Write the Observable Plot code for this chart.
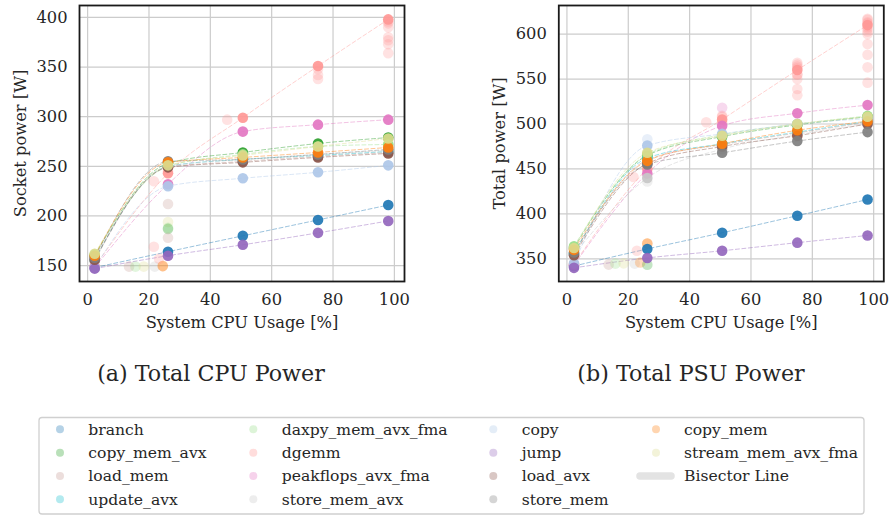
<!DOCTYPE html>
<html><head><meta charset="utf-8">
<script src="https://cdn.jsdelivr.net/npm/d3@7"></script>
<script src="https://cdn.jsdelivr.net/npm/@observablehq/plot@0.6"></script>
<style>
body{margin:0;background:#fff;}
#root{position:relative;width:891px;height:516px;overflow:hidden;font-family:"DejaVu Serif";color:#262626;background:#fff}
.panel{position:absolute;top:0}
.cap{position:absolute;top:362px;font-size:22.2px;line-height:22px;white-space:nowrap;transform:translateX(-50%)}
#legend{position:absolute;left:0;top:0}
</style></head><body><div id="root"></div>
<script>
// ---------------- data ----------------
const benchmarks = ["branch","copy_mem_avx","load_mem","update_avx","daxpy_mem_avx_fma","dgemm","peakflops_avx_fma","store_mem_avx","copy","jump","load_avx","store_mem","copy_mem","stream_mem_avx_fma"];
const palette = ["#1f77b4","#2ca02c","#c49c94","#17becf","#98df8a","#ff9896","#e377c2","#c7c7c7","#aec7e8","#9467bd","#8c564b","#7f7f7f","#ff7f0e","#dbdb8d"];
const cpuUsage = [2.3, 26.2, 50.6, 75.1, 98.0];
const xTicks = [0, 20, 40, 60, 80, 100];
const socketTicks = [150, 200, 250, 300, 350, 400];
const totalTicks = [350, 400, 450, 500, 550, 600];

// socket power [W], one row per benchmark (same order), one value per cpuUsage level
const socketPower = [
  [148, 164, 180, 196, 211],
  [160, 253, 264, 273, 279],
  [155, 249, 255, 260, 264],
  [156, 250, 257, 261, 265],
  [161, 250, 262, 270, 272],
  [149, 243, 299, 351, 398],
  [148, 232, 285, 292, 297],
  [157, 250, 257, 262, 266],
  [148, 230, 238, 244, 251],
  [147, 160, 171, 183, 195],
  [156, 249, 254, 259, 263],
  [158, 255, 257, 262, 267],
  [160, 254, 259, 264, 269],
  [162, 251, 261, 270, 278]
];
// total (PSU) power [W]
const totalPower = [
  [342, 361, 379, 398, 416],
  [362, 465, 486, 499, 508],
  [355, 460, 477, 490, 502],
  [356, 462, 478, 491, 503],
  [364, 466, 488, 500, 509],
  [344, 450, 505, 560, 610],
  [343, 445, 498, 512, 521],
  [355, 440, 472, 488, 500],
  [345, 476, 489, 500, 506],
  [340, 351, 359, 368, 376],
  [354, 456, 475, 487, 500],
  [357, 455, 468, 481, 491],
  [360, 459, 478, 493, 503],
  [362, 468, 487, 500, 508]
];
// individual (transient / repeated) measurements, socket panel
const socketExtraX = [13.5, 15.6, 18.3, 21.9, 24.5, 24.5, 21.6, 23.3, 21.6, 45.5, 26.2, 26.2, 26.2, 26.2, 26.2, 26.2, 75.1, 75.1, 75.1, 98, 98, 98, 98, 98, 98, 98, 98];
const socketExtraY = [149, 149, 149, 149, 149.5, 149.5, 169, 157, 235, 297, 212, 194, 188, 187, 178, 245, 338, 342, 348, 394, 390, 380, 377, 373, 364, 272, 396];
const socketExtraS = [2, 4, 13, 7, 12, 12, 5, 5, 5, 5, 2, 13, 4, 1, 2, 5, 5, 5, 5, 5, 5, 5, 5, 5, 5, 4, 5];
// individual measurements, total panel
const totalExtraX = [13.6, 15.8, 18.5, 22.1, 23.9, 26.2, 26.2, 26.2, 22.8, 21.7, 45.4, 50.6, 26.2, 26.2, 98, 98, 98, 98, 98, 98, 98, 98, 75.1, 75.1, 75.1, 75.1, 75.1, 75.1, 50.6, 50.6, 98, 98, 98, 98, 98, 75.1, 75.1, 75.1, 50.6];
const totalExtraY = [343.6, 344.7, 345, 344.7, 346, 343.5, 367, 367, 359, 441, 502, 518, 436, 483, 617, 612, 606, 600, 589, 577, 563, 546, 568, 564, 555, 550, 539, 532, 509, 502, 508, 616, 613, 608, 603, 566, 562, 555, 508];
const totalExtraS = [2, 4, 13, 7, 12, 1, 12, 12, 5, 5, 5, 6, 7, 8, 5, 5, 5, 5, 5, 5, 5, 5, 5, 5, 5, 5, 5, 5, 5, 5, 4, 5, 5, 5, 5, 5, 5, 5, 5];

// ---------------- drawing ----------------
function panel(values, ex, ey, es, yDomain, yTicks, yLabel, width, marginLeft, marginRight, labelOffsetY) {
  const rows = [];
  benchmarks.forEach((b, i) => cpuUsage.forEach((x, j) => rows.push({bench: b, x, y: values[i][j]})));
  const extras = ex.map((x, k) => ({x, y: ey[k], bench: benchmarks[es[k]]}));
  return Plot.plot({
    width, height: 340, marginLeft, marginRight, marginTop: 5, marginBottom: 59,
    x: {domain: [-2.65, 103.3]},
    y: {domain: yDomain},
    color: {domain: benchmarks, range: palette},
    style: {fontFamily: "DejaVu Serif", fontSize: "16px", color: "#262626", background: "transparent", overflow: "visible"},
    marks: [
      Plot.gridX(xTicks, {stroke: "#cccccc", strokeOpacity: 1, strokeWidth: 1.2}),
      Plot.gridY(yTicks, {stroke: "#cccccc", strokeOpacity: 1, strokeWidth: 1.2}),
      Plot.line(rows, {x: "x", y: "y", z: "bench", stroke: "bench", strokeWidth: 1, strokeOpacity: 0.45, strokeDasharray: "4,2.5", curve: "monotone-x"}),
      Plot.dot(extras, {x: "x", y: "y", fill: "bench", r: 5.3, fillOpacity: 0.28}),
      Plot.dot(rows, {x: "x", y: "y", fill: "bench", r: 5.3, fillOpacity: 0.92}),
      Plot.frame({stroke: "#1a1a1a", strokeWidth: 1.8}),
      Plot.axisX(xTicks, {tickSize: 0, tickPadding: 12, fontSize: 16.3, label: "System CPU Usage [%]", labelAnchor: "center", labelArrow: "none", labelOffset: 46}),
      Plot.axisY(yTicks, {tickSize: 0, tickPadding: 12, fontSize: 16.3, label: yLabel, labelAnchor: "center", labelArrow: "none", labelOffset: labelOffsetY})
    ]
  });
}

const root = document.getElementById("root");
const left = panel(socketPower, socketExtraX, socketExtraY, socketExtraS, [134, 412], socketTicks, "Socket power [W]", 440, 79, 36, 65);
left.classList.add("panel"); left.style.left = "0px";
root.appendChild(left);
const right = panel(totalPower, totalExtraX, totalExtraY, totalExtraS, [324.8, 631.8], totalTicks, "Total power [W]", 451, 118.3, 7.7, 65);
right.classList.add("panel"); right.style.left = "440px";
root.appendChild(right);

for (const [txt, cx] of [["(a) Total CPU Power", 211], ["(b) Total PSU Power", 691]]) {
  const d = document.createElement("div");
  d.className = "cap"; d.textContent = txt; d.style.left = cx + "px";
  root.appendChild(d);
}

// legend
const ns = "http://www.w3.org/2000/svg";
const lg = document.createElementNS(ns, "svg");
lg.setAttribute("id", "legend"); lg.setAttribute("width", 891); lg.setAttribute("height", 516);
lg.style.fontFamily = "DejaVu Serif";
const box = document.createElementNS(ns, "rect");
box.setAttribute("x", 39); box.setAttribute("y", 417.5); box.setAttribute("width", 825); box.setAttribute("height", 96.5);
box.setAttribute("rx", 3); box.setAttribute("fill", "#fff"); box.setAttribute("stroke", "#d0d0d0"); box.setAttribute("stroke-width", 1.3);
lg.appendChild(box);
const colMarker = [60, 253.3, 493.3, 656];
const colText = [88.3, 281.7, 521.7, 684];
const rowY = [429.3, 452.7, 476, 499.3];
const items = benchmarks.map((b, i) => ({label: b, color: palette[i]})).concat([{label: "Bisector Line", line: true}]);
items.forEach((it, k) => {
  const c = Math.floor(k / 4), r = k % 4;
  if (it.line) {
    const l = document.createElementNS(ns, "line");
    l.setAttribute("x1", colMarker[c] - 16); l.setAttribute("x2", colMarker[c] + 15);
    l.setAttribute("y1", rowY[r]); l.setAttribute("y2", rowY[r]);
    l.setAttribute("stroke", "#e3e3e3"); l.setAttribute("stroke-width", 7.5); l.setAttribute("stroke-linecap", "round");
    lg.appendChild(l);
  } else {
    const ci = document.createElementNS(ns, "circle");
    ci.setAttribute("cx", colMarker[c]); ci.setAttribute("cy", rowY[r]); ci.setAttribute("r", 4);
    ci.setAttribute("fill", it.color); ci.setAttribute("fill-opacity", 0.33);
    lg.appendChild(ci);
  }
  const t = document.createElementNS(ns, "text");
  t.setAttribute("x", colText[it.line ? 3 : c]); t.setAttribute("y", rowY[r]);
  t.setAttribute("dy", "0.35em"); t.setAttribute("font-size", "15.6px"); t.setAttribute("fill", "#262626");
  t.textContent = it.label;
  lg.appendChild(t);
});
root.appendChild(lg);
</script></body></html>
